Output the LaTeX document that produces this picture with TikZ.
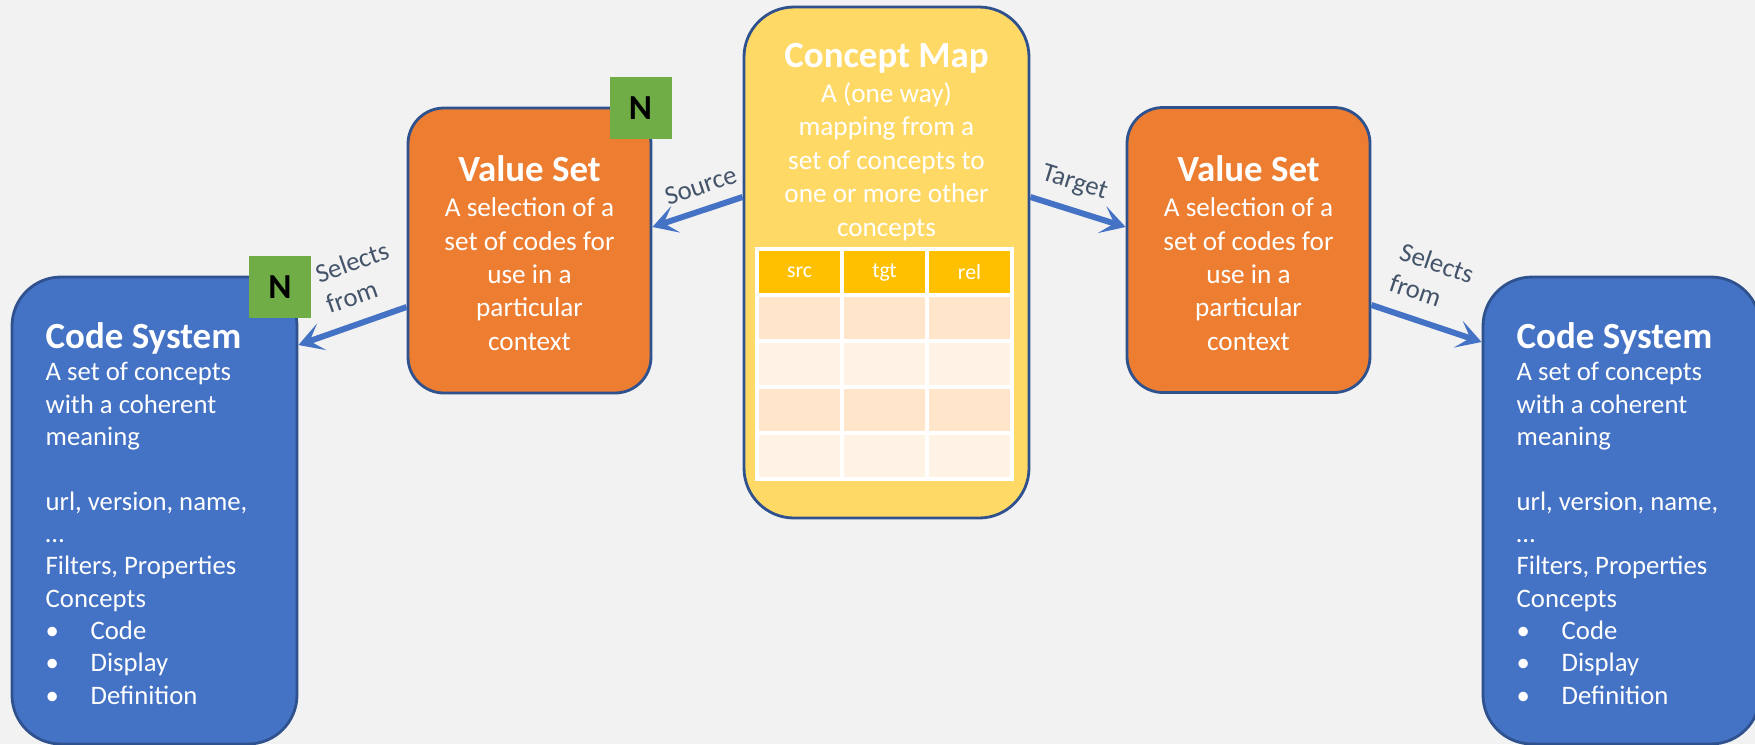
\documentclass[tikz,border=0pt]{standalone}
\usepackage{fontspec}
\setmainfont{Carlito}
\usetikzlibrary{arrows.meta,positioning}
\definecolor{bggray}{HTML}{F2F2F2}
\definecolor{csblue}{HTML}{4472C4}
\definecolor{vsorange}{HTML}{ED7D31}
\definecolor{cmgold}{HTML}{FFD966}
\definecolor{hdgold}{HTML}{FFC000}
\definecolor{rowpeach}{HTML}{FFE6CB}
\definecolor{rowcream}{HTML}{FFF3E6}
\definecolor{edgeblue}{HTML}{2F528F}
\definecolor{ngreen}{HTML}{70AD47}
\definecolor{lblslate}{HTML}{44546A}

\tikzset{
  box/.style={draw=edgeblue, line width=0.8pt, inner sep=0pt},
  csbox/.style={box, fill=csblue, rounded corners=0.49cm, minimum width=2.85cm, minimum height=4.67cm},
  vsbox/.style={box, fill=vsorange, rounded corners=0.36cm, minimum width=2.43cm, minimum height=2.85cm},
  cmbox/.style={box, fill=cmgold, rounded corners=0.5cm, minimum width=2.85cm, minimum height=5.11cm},
  boxtext/.style={text=white, inner sep=0pt, font=\fontsize{7.6}{9.2}\selectfont},
  widetext/.style={boxtext, font=\fontsize{7.75}{9.5}\selectfont},
  nbadge/.style={fill=ngreen, minimum size=0.62cm, inner sep=0pt, font=\fontsize{10}{12}\selectfont\bfseries},
  link/.style={draw=csblue, line width=1.7pt, -{Stealth[length=7pt,width=8pt,inset=3.6pt]}},
  linklabel/.style={text=lblslate, font=\fontsize{7.6}{9.2}\selectfont, align=center, sloped, above, pos=0.38, inner sep=3.5pt},
  selectlabel/.style={linklabel, align=left, inner sep=4.5pt},
  hdcell/.style={text=white, font=\fontsize{6.2}{7}\selectfont, inner sep=0pt}
}
\newcommand{\boxtitle}[1]{{\fontsize{10.5}{12}\selectfont\bfseries #1}}

\begin{document}
\begin{tikzpicture}[x=1cm, y=-1cm]

  % ---- Background ----
  \fill[bggray] (0,0) rectangle (17.55,7.44);
  \useasboundingbox (0,0) rectangle (17.55,7.44);

  % ---- Boxes ----
  \node[csbox] (csL) at (1.545,5.105) {};
  \node[vsbox] (vsL) at (5.295,2.505) {};
  \node[cmbox] (cmap) at (8.865,2.625) {};
  \node[vsbox] (vsR) at (12.485,2.50) {};
  \node[csbox, minimum width=2.77cm] (csR) at (16.215,5.105) {};

  % ---- Box texts ----
  \node[boxtext, anchor=north west, align=left] (csLtext) at (0.45,3.22)
    {\boxtitle{Code System}\\
     A set of concepts\\ with a coherent\\ meaning\\[9.2pt]
     url, version, name,\\ …\\ Filters, Properties\\ Concepts\\
     \makebox[0.45cm][l]{•}Code\\
     \makebox[0.45cm][l]{•}Display\\
     \makebox[0.45cm][l]{•}Definition};

  \node[boxtext, anchor=north west, align=left] (csRtext) at (15.16,3.22)
    {\boxtitle{Code System}\\
     A set of concepts\\ with a coherent\\ meaning\\[9.2pt]
     url, version, name,\\ …\\ Filters, Properties\\ Concepts\\
     \makebox[0.45cm][l]{•}Code\\
     \makebox[0.45cm][l]{•}Display\\
     \makebox[0.45cm][l]{•}Definition};

  \node[widetext, anchor=north, align=center] (vsLtext) at (5.295,1.55)
    {\boxtitle{Value Set}\\[0.5pt]
     A selection of a\\ set of codes for\\ use in a\\ particular\\ context};

  \node[widetext, anchor=north, align=center] (vsRtext) at (12.485,1.55)
    {\boxtitle{Value Set}\\[0.5pt]
     A selection of a\\ set of codes for\\ use in a\\ particular\\ context};

  \node[widetext, anchor=north, align=center] (cmtext) at (8.865,0.425)
    {\boxtitle{Concept Map}\\[0.5pt]
     A (one way)\\ mapping from a\\ set of concepts to\\ one or more other\\ concepts};

  % ---- Mapping table ----
  \fill[hdgold] (7.57,2.49) rectangle (10.12,2.95);
  \foreach \r/\c in {0/rowpeach,1/rowcream,2/rowpeach,3/rowcream}
    \fill[\c] (7.57,2.95+0.46*\r) rectangle (10.12,3.41+0.46*\r);
  \foreach \x in {8.42,9.27}
    \draw[white, line width=0.9pt] (\x,2.49) -- (\x,4.79);
  \foreach \y in {2.95,3.41,3.87,4.33}
    \draw[white, line width=0.9pt] (7.57,\y) -- (10.12,\y);
  \draw[white, line width=0.9pt] (7.57,2.49) rectangle (10.12,4.79);
  \node[hdcell] (hsrc) at (7.995,2.72) {src};
  \node[hdcell] (htgt) at (8.845,2.72) {tgt};
  \node[hdcell] (hrel) at (9.695,2.72) {rel};

  % ---- Badges ----
  \node[nbadge] (nCS) at (2.80,2.87) {N};
  \node[nbadge] (nVS) at (6.405,1.08) {N};

  % ---- Links ----
  \draw[link] ([yshift=6.55mm]cmap.west) -- ([yshift=2.35mm]vsL.east)
    node[linklabel] (lsrc) {Source};
  \draw[link] ([yshift=6.55mm]cmap.east) -- ([yshift=2.3mm]vsR.west)
    node[linklabel] (ltgt) {Target};
  \draw[link] ([yshift=-5.65mm]vsL.west) -- ([yshift=16.55mm]csL.east)
    node[selectlabel, pos=0.32] (lselL) {Selects\\from};
  \draw[link] ([yshift=-5.5mm]vsR.east) -- ([yshift=16.85mm]csR.west)
    node[selectlabel, pos=0.42] (lselR) {Selects\\from};

\end{tikzpicture}
\end{document}
